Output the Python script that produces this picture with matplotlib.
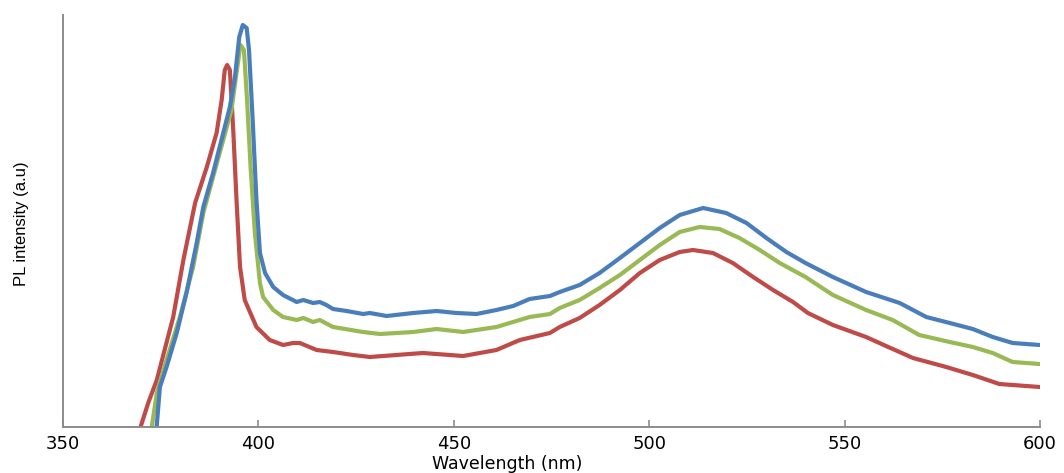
import matplotlib
matplotlib.use("Agg")
import matplotlib.pyplot as plt

# PL spectra (wavelength in nm, intensity in arbitrary units)
blue_nm = [373.9, 374.8, 376.5, 379.1, 381.6, 384.2, 385.9, 388.4, 391.0, 392.7, 394.0,
           395.1, 396.0, 397.0, 397.6, 398.5, 399.5, 400.4, 401.7, 403.8, 406.3, 409.8,
           411.5, 414.0, 415.7, 417.4, 419.1, 422.6, 426.8, 428.5, 432.8, 439.6, 445.6,
           450.7, 455.8, 460.9, 465.2, 469.4, 474.6, 477.1, 482.2, 487.3, 492.5, 497.6,
           502.7, 507.8, 513.8, 519.7, 524.9, 530.0, 535.1, 540.0, 547.0, 555.5, 564.1,
           570.9, 576.9, 582.8, 587.9, 593.0, 599.9]
blue_pl = [-3, 40, 60, 94, 134, 184, 220, 254, 294, 320, 350,
           390, 402, 399, 377, 310, 227, 174, 154, 140, 132, 125,
           127, 124, 125, 122, 118, 116, 113, 114, 111, 114, 116,
           114, 113, 117, 121, 128, 131, 135, 142, 154, 169, 184,
           199, 212, 219, 214, 204, 189, 175, 164, 150, 135, 124,
           110, 104, 98, 90, 84, 82]

green_nm = [372.6, 374.0, 376.5, 379.9, 383.3, 385.9, 388.4, 391.0, 393.1, 394.4, 395.4,
            396.3, 397.1, 398.0, 399.1, 400.4, 401.2, 403.8, 406.3, 409.8, 411.5, 414.0,
            415.7, 419.1, 426.8, 431.1, 439.6, 445.6, 452.4, 460.9, 469.4, 474.6, 477.1,
            482.2, 487.3, 492.5, 497.6, 502.7, 507.8, 512.9, 518.0, 523.1, 528.3, 533.4,
            540.0, 547.0, 555.5, 562.3, 569.1, 576.9, 582.8, 587.9, 593.0, 599.9]
green_pl = [-3, 34, 67, 110, 160, 214, 250, 287, 317, 354, 382,
            377, 327, 260, 194, 144, 130, 117, 110, 107, 109, 105,
            107, 100, 95, 93, 95, 98, 95, 100, 110, 113, 119,
            127, 139, 152, 167, 182, 195, 200, 198, 189, 177, 164,
            150, 132, 117, 107, 92, 85, 80, 74, 65, 63]

red_nm = [369.6, 371.8, 374.0, 378.2, 380.8, 383.8, 386.8, 389.3, 390.6, 391.4, 392.0,
          392.7, 393.6, 394.4, 395.3, 396.5, 399.5, 402.9, 406.3, 408.9, 410.6, 414.9,
          419.1, 424.2, 428.5, 442.1, 452.4, 460.9, 466.9, 474.6, 477.1, 482.2, 487.3,
          492.5, 497.6, 502.7, 507.8, 511.2, 516.3, 521.4, 526.6, 531.7, 536.8, 540.6,
          547.0, 555.5, 560.6, 567.5, 576.0, 582.8, 589.6, 599.9]
red_pl = [-3, 24, 47, 110, 167, 224, 260, 294, 327, 357, 362,
          357, 294, 227, 160, 127, 100, 87, 82, 84, 84, 77,
          75, 72, 70, 74, 71, 77, 87, 94, 100, 109, 122,
          137, 154, 167, 175, 177, 174, 164, 150, 137, 125, 114,
          102, 90, 81, 69, 60, 52, 43, 40]

x_ticks = [350, 400, 450, 500, 550, 600]

COLORS = {
    "blue": "#4a7ebb",
    "green": "#98b954",
    "red": "#be4b48",
    "axis": "#8c8c8c",
    "text": "#000000",
}

fig = plt.figure(figsize=(10.64, 4.73), dpi=100)
ax = fig.add_axes([63 / 1064, 46 / 473, 977 / 1064, 412 / 473])

line_kw = dict(linewidth=3.0, solid_joinstyle="round", solid_capstyle="round")
ax.plot(red_nm, red_pl, color=COLORS["red"], **line_kw)
ax.plot(green_nm, green_pl, color=COLORS["green"], **line_kw)
ax.plot(blue_nm, blue_pl, color=COLORS["blue"], **line_kw)

ax.set_xlim(350, 600)
ax.set_ylim(0, 412)
ax.set_xticks(x_ticks)
ax.set_xticklabels([str(t) for t in x_ticks], fontsize=13, family="DejaVu Sans")
ax.set_yticks([])

for side in ("top", "right"):
    ax.spines[side].set_visible(False)
for side in ("left", "bottom"):
    ax.spines[side].set_color(COLORS["axis"])
    ax.spines[side].set_linewidth(1.4)

ax.tick_params(axis="x", direction="in", length=5, width=1.2, color=COLORS["axis"],
               pad=6, labelcolor=COLORS["text"])

fig.text(22 / 1064, 1 - 224 / 473, "PL intensity (a.u)", rotation=90, ha="center",
         va="center", fontsize=12, family="Liberation Sans", color=COLORS["text"])
fig.text(507 / 1064, 0.0, "Wavelength (nm)", ha="center", va="bottom",
         fontsize=12.5, family="DejaVu Sans", color=COLORS["text"])

fig.savefig("out.png", dpi=100, facecolor="white")
